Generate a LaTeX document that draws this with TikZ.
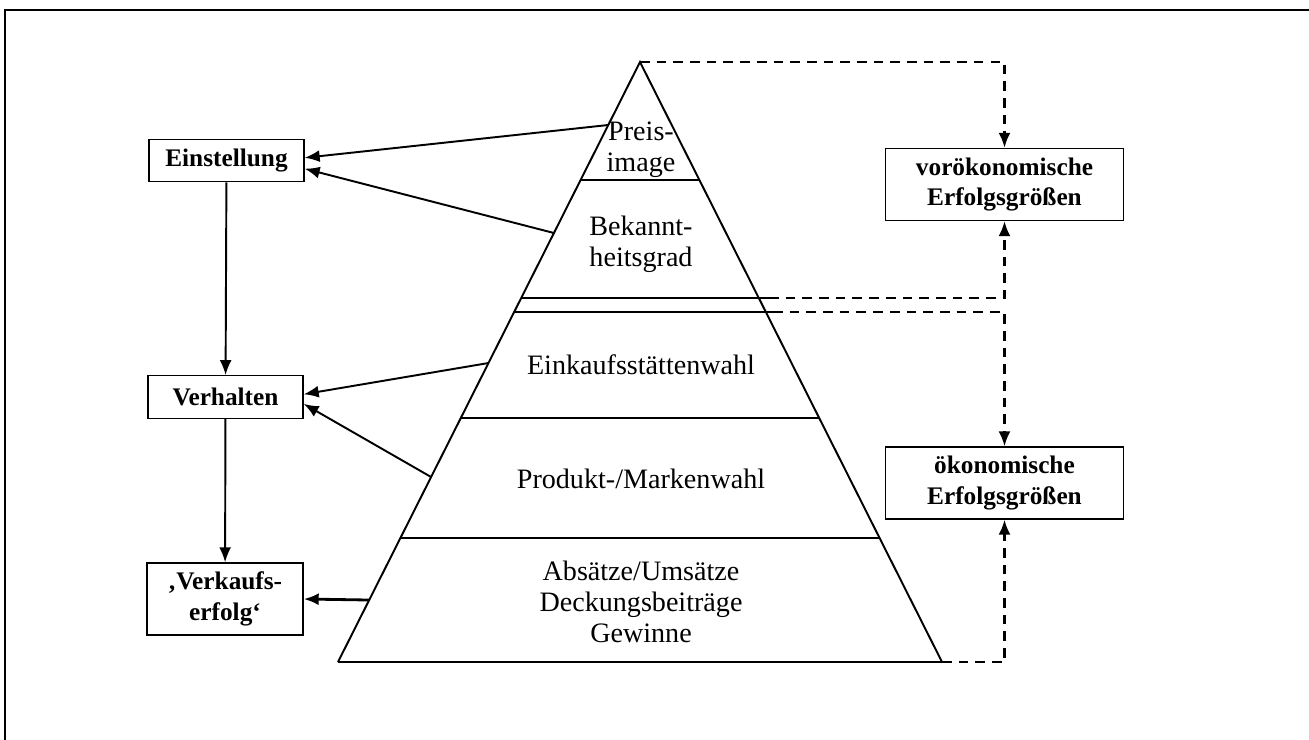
\documentclass[tikz,border=0pt]{standalone}
\usepackage{fontspec}
\setmainfont{Liberation Serif}
\usepackage{tikz}
\usetikzlibrary{arrows.meta,calc}
\newcommand{\layerfont}{\fontsize{16}{17.5}\selectfont}
\newcommand{\boxfont}{\fontsize{14.4}{17.5}\selectfont\bfseries}
\tikzset{
    box/.style={draw,line width=0.8pt,align=center,font=\boxfont,inner sep=2pt,minimum width=3.1cm,minimum height=0.85cm},
    bigbox/.style={box,minimum width=4.76cm,minimum height=1.44cm},
    layer/.style={align=center,font=\layerfont},
    band/.style={line width=1.7pt},
    edge/.style={->,> = {Latex[length=0.3cm,width=0.24cm]},line width=1.1pt},
    dashedge/.style={edge,line width=1.3pt,dash pattern=on 5.5pt off 4pt}
}

\begin{document}
\begin{tikzpicture}[x=0.02cm,y=-0.02cm]
\useasboundingbox (0,0) rectangle (1309,740);
\draw[line width=1.1pt] (5,740) -- (5,10) -- (1309,10);

% pyramid
\coordinate (apex) at (640,62);
\coordinate (bl) at (338,662);
\coordinate (br) at (942,662);
\draw[line width=1.1pt] (bl) -- (apex) -- (br);
\draw[band] (bl) -- (br);
\draw[band] (580.6,180) -- (699.4,180);
\draw[band] (521.2,298) -- (769,298) coordinate (b2);
\draw[band] (514.2,312) -- (773,312) coordinate (b3);
\draw[band] (460.8,418) -- (819.2,418);
\draw[band] (400.4,538) -- (879.6,538);

\node[layer] (preis) at (641,150) {Preis-\\image};
\node[layer] (bek) at (641,244) {Bekannt-\\heitsgrad};
\node[layer] (eink) at (641,365) {Einkaufsstättenwahl};
\node[layer] (prod) at (641,479) {Produkt-/Markenwahl};
\node[layer] (abs) at (641,602) {Absätze/Umsätze\\Deckungsbeiträge\\Gewinne};

% left boxes
\node[box] (ein) at (226.5,160.5) {Einstellung};
\node[box] (verh) at (225.5,397) {Verhalten};
\node[box,minimum width=3.12cm,minimum height=1.44cm] (verk) at (225,599) {‚Verkaufs-\\erfolg‘};

% right boxes
\node[bigbox] (vor) at (1004.5,184.5) {vorökonomische\\Erfolgsgrößen};
\node[bigbox] (oek) at (1004.5,483) {ökonomische\\Erfolgsgrößen};

% points on the pyramid side
\coordinate (s1) at ($(apex)!0.105!(bl)$);
\coordinate (s2) at ($(apex)!0.285!(bl)$);
\coordinate (s3) at ($(apex)!0.5017!(bl)$);
\coordinate (s4) at ($(apex)!0.6917!(bl)$);
\coordinate (s5) at ($(apex)!0.8967!(bl)$);

\draw[edge] (s1) -- (ein.2);
\draw[edge] (s2) -- (ein.-6);
\draw[edge] (s3) -- (verh.2);
\draw[edge] (s4) -- (verh.-5);
\draw[edge,line width=1.6pt] (s5) -- (verk.east);
\draw[edge] (ein) -- (verh);
\draw[edge] (verh) -- (verk);

\draw[dashedge] (apex) -| (vor.north);
\draw[dashedge] (b2) -| (vor.south);
\draw[dashedge] (b3) -| (oek.north);
\draw[dashedge] (br) -| (oek.south);

\end{tikzpicture}
\end{document}
